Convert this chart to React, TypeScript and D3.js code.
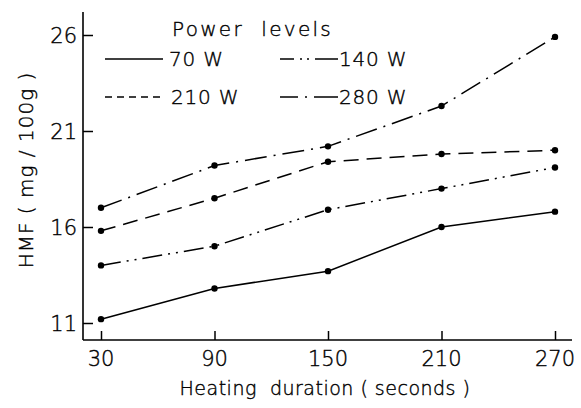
import React, { useRef, useEffect } from "react";
import * as d3 from "d3";

const durations = [30, 90, 150, 210, 270];
const yTicks = [11, 16, 21, 26];
const w70 = [11.2, 12.8, 13.7, 16.0, 16.8];
const w140 = [14.0, 15.0, 16.9, 18.0, 19.1];
const w210 = [15.8, 17.5, 19.4, 19.8, 20.0];
const w280 = [17.0, 19.2, 20.2, 22.3, 25.9];

// dash: chart line pattern, key: legend sample pattern
const series = [
  { name: "70 W", values: w70, dash: "none", key: "none" },
  { name: "140 W", values: w140, dash: "20 6 2 6 2 6", key: "14 6 2 5 2 6 40" },
  { name: "210 W", values: w210, dash: "15 8", key: "7 5" },
  { name: "280 W", values: w280, dash: "22 7 2 7", key: "18 7 2 7 40" },
];

const W = 581;
const H = 408;
const FONT = "'DejaVu Sans ExtraLight', 'DejaVu Sans', sans-serif";

const App = () => {
  const svgRef = useRef<SVGSVGElement>(null);

  useEffect(() => {
    const svg = d3.select(svgRef.current);
    svg.selectAll("*").remove();

    const x = d3.scaleLinear().domain([30, 270]).range([101, 555]);
    const y = d3.scaleLinear().domain([11, 26]).range([323, 35]);

    const axisX = 83;
    const axisY = 340;

    // axis lines
    svg.append("line").attr("x1", axisX).attr("x2", axisX).attr("y1", 12).attr("y2", axisY)
      .attr("stroke", "#000").attr("stroke-width", 1.6);
    svg.append("line").attr("x1", axisX).attr("x2", 572).attr("y1", axisY).attr("y2", axisY)
      .attr("stroke", "#000").attr("stroke-width", 1.6);

    const yAxis = d3.axisRight(y).tickValues(yTicks).tickSize(10).tickFormat(() => "");
    const gy = svg.append("g").attr("transform", `translate(${axisX},0)`).call(yAxis);
    gy.select(".domain").remove();
    gy.selectAll("line").attr("stroke-width", 1.5);

    svg.append("g").selectAll("text").data(yTicks).join("text")
      .attr("x", axisX - 6).attr("y", (d) => y(d) + 8)
      .attr("text-anchor", "end").attr("font-size", 21).text((d) => d);

    const xAxis = d3.axisTop(x).tickValues(durations).tickSize(9).tickFormat(() => "");
    const gx = svg.append("g").attr("transform", `translate(0,${axisY})`).call(xAxis);
    gx.select(".domain").remove();
    gx.selectAll("line").attr("stroke-width", 1.5);

    svg.append("g").selectAll("text").data(durations).join("text")
      .attr("x", (d) => x(d)).attr("y", 366)
      .attr("text-anchor", "middle").attr("font-size", 21).text((d) => d);

    // axis titles
    svg.append("text").attr("x", 325).attr("y", 395).attr("text-anchor", "middle")
      .attr("font-size", 19).attr("letter-spacing", 0.5).style("white-space", "pre")
      .text("Heating  duration ( seconds )");
    svg.append("text").attr("transform", "translate(33,170) rotate(-90)").attr("text-anchor", "middle")
      .attr("font-size", 20).attr("letter-spacing", 1).style("white-space", "pre")
      .text("HMF ( mg / 100g )");

    const line = d3.line<number>()
      .x((_, i) => x(durations[i]))
      .y((d) => y(d));

    series.forEach((s) => {
      svg.append("path").datum(s.values).attr("d", line).attr("fill", "none")
        .attr("stroke", "#000").attr("stroke-width", 1.5)
        .attr("stroke-dasharray", s.dash);
      svg.append("g").selectAll("circle").data(s.values).join("circle")
        .attr("cx", (_, i) => x(durations[i])).attr("cy", (d) => y(d)).attr("r", 3.2)
        .attr("fill", "#000");
    });

    // legend
    svg.append("text").attr("x", 172).attr("y", 36)
      .attr("font-size", 20).attr("letter-spacing", 2.3)
      .style("white-space", "pre").text("Power  levels");
    const legendPos = [
      { lx: 105, ly: 59, tx: 169 },
      { lx: 280, ly: 59, tx: 339 },
      { lx: 105, ly: 97, tx: 171 },
      { lx: 280, ly: 97, tx: 339 },
    ];
    series.forEach((s, i) => {
      const p = legendPos[i];
      svg.append("line").attr("x1", p.lx).attr("x2", p.lx + 58).attr("y1", p.ly).attr("y2", p.ly)
        .attr("stroke", "#000").attr("stroke-width", 1.5).attr("stroke-dasharray", s.key);
      svg.append("text").attr("x", p.tx).attr("y", p.ly + 7)
        .attr("font-size", 20).attr("letter-spacing", 0.8).text(s.name);
    });

    // shared text style: light face, slightly thickened
    svg.selectAll("text")
      .attr("font-family", FONT).attr("font-weight", 200)
      .attr("fill", "#000").attr("stroke", "#000").attr("stroke-width", 0.4);
  }, []);

  return <svg ref={svgRef} width={W} height={H} style={{ position: "absolute", left: 0, top: 0, background: "#fff" }} />;
};

export default App;
